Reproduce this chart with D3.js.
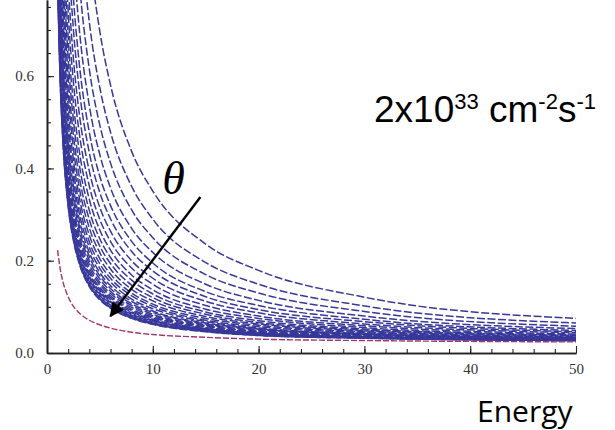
<!DOCTYPE html>
<html>
<head>
<meta charset="utf-8">
<script src="https://cdn.jsdelivr.net/npm/d3@7"></script>
<style>
  body { margin: 0; background: #fff; }
</style>
</head>
<body>
<div id="chart"></div>
<script>
var energies = [1, 1.25, 1.5, 2, 2.5, 3, 4, 5, 6, 8, 10, 15, 20, 30, 50];

// blue family, outermost first (theta grows toward the inner curve)
var blueCurves = [
  [3.456, 2.766, 2.306, 1.731, 1.386, 1.156, 0.869, 0.696, 0.581, 0.437, 0.351, 0.236, 0.179, 0.121, 0.075],
  [2.898, 2.308, 1.918, 1.434, 1.146, 0.955, 0.717, 0.574, 0.479, 0.361, 0.290, 0.196, 0.149, 0.102, 0.065],
  [2.526, 2.003, 1.659, 1.236, 0.986, 0.820, 0.615, 0.493, 0.412, 0.310, 0.250, 0.170, 0.130, 0.090, 0.058],
  [2.234, 1.763, 1.456, 1.081, 0.860, 0.715, 0.536, 0.429, 0.358, 0.270, 0.218, 0.149, 0.114, 0.080, 0.053],
  [2.022, 1.588, 1.308, 0.967, 0.769, 0.638, 0.478, 0.382, 0.320, 0.242, 0.195, 0.133, 0.103, 0.073, 0.049],
  [1.862, 1.457, 1.197, 0.883, 0.700, 0.581, 0.434, 0.347, 0.291, 0.220, 0.178, 0.122, 0.094, 0.068, 0.046],
  [1.716, 1.337, 1.096, 0.805, 0.637, 0.528, 0.394, 0.315, 0.264, 0.200, 0.162, 0.112, 0.087, 0.063, 0.044],
  [1.597, 1.239, 1.012, 0.741, 0.586, 0.485, 0.362, 0.289, 0.242, 0.184, 0.149, 0.103, 0.080, 0.059, 0.041],
  [1.491, 1.152, 0.938, 0.685, 0.540, 0.446, 0.333, 0.266, 0.223, 0.169, 0.137, 0.095, 0.075, 0.055, 0.039],
  [1.406, 1.082, 0.879, 0.639, 0.504, 0.416, 0.309, 0.247, 0.207, 0.158, 0.128, 0.089, 0.070, 0.052, 0.038],
  [1.331, 1.021, 0.828, 0.600, 0.472, 0.389, 0.289, 0.231, 0.194, 0.147, 0.120, 0.084, 0.066, 0.050, 0.037],
  [1.265, 0.967, 0.781, 0.564, 0.443, 0.365, 0.271, 0.217, 0.182, 0.138, 0.113, 0.079, 0.063, 0.048, 0.035],
  [1.206, 0.919, 0.741, 0.533, 0.418, 0.344, 0.255, 0.204, 0.171, 0.130, 0.106, 0.075, 0.060, 0.046, 0.034],
  [1.156, 0.877, 0.706, 0.506, 0.396, 0.326, 0.241, 0.193, 0.162, 0.124, 0.101, 0.071, 0.057, 0.044, 0.033],
  [1.111, 0.840, 0.674, 0.482, 0.377, 0.309, 0.229, 0.183, 0.154, 0.117, 0.096, 0.068, 0.054, 0.042, 0.033],
  [1.071, 0.807, 0.646, 0.461, 0.360, 0.295, 0.218, 0.174, 0.146, 0.112, 0.091, 0.065, 0.052, 0.041, 0.032],
  [1.036, 0.779, 0.622, 0.443, 0.345, 0.282, 0.209, 0.167, 0.140, 0.107, 0.088, 0.063, 0.051, 0.040, 0.031],
  [1.005, 0.753, 0.600, 0.426, 0.331, 0.271, 0.200, 0.160, 0.134, 0.103, 0.084, 0.061, 0.049, 0.039, 0.031],
  [0.975, 0.729, 0.580, 0.410, 0.318, 0.260, 0.192, 0.153, 0.129, 0.099, 0.081, 0.059, 0.047, 0.038, 0.030],
  [0.949, 0.707, 0.561, 0.396, 0.307, 0.251, 0.185, 0.148, 0.124, 0.095, 0.078, 0.057, 0.046, 0.037, 0.030],
  [0.925, 0.688, 0.545, 0.383, 0.297, 0.242, 0.178, 0.142, 0.120, 0.092, 0.076, 0.055, 0.045, 0.036, 0.029],
  [0.904, 0.670, 0.530, 0.372, 0.288, 0.234, 0.172, 0.138, 0.116, 0.089, 0.073, 0.053, 0.043, 0.035, 0.029],
  [0.885, 0.655, 0.517, 0.362, 0.280, 0.228, 0.167, 0.134, 0.112, 0.087, 0.071, 0.052, 0.043, 0.035, 0.029],
  [0.869, 0.642, 0.506, 0.354, 0.273, 0.222, 0.163, 0.130, 0.110, 0.084, 0.070, 0.051, 0.042, 0.034, 0.028],
  [0.853, 0.629, 0.495, 0.345, 0.266, 0.216, 0.159, 0.127, 0.107, 0.082, 0.068, 0.050, 0.041, 0.034, 0.028],
  [0.840, 0.618, 0.486, 0.338, 0.260, 0.211, 0.155, 0.124, 0.104, 0.080, 0.066, 0.049, 0.040, 0.033, 0.028],
  [0.827, 0.607, 0.476, 0.331, 0.254, 0.207, 0.151, 0.121, 0.102, 0.079, 0.065, 0.048, 0.039, 0.033, 0.027],
  [0.816, 0.598, 0.469, 0.325, 0.250, 0.203, 0.148, 0.118, 0.100, 0.077, 0.064, 0.047, 0.039, 0.033, 0.027],
  [0.808, 0.592, 0.464, 0.321, 0.246, 0.200, 0.146, 0.117, 0.098, 0.076, 0.063, 0.047, 0.038, 0.032, 0.027],
  [0.800, 0.585, 0.458, 0.317, 0.243, 0.197, 0.144, 0.115, 0.097, 0.075, 0.062, 0.046, 0.038, 0.032, 0.027]
];

// the single lower (pink) curve
var pinkCurve = [0.223, 0.182, 0.155, 0.122, 0.101, 0.088, 0.071, 0.061, 0.054, 0.045, 0.040, 0.034, 0.030, 0.027, 0.024];

var xTicks = [0, 10, 20, 30, 40, 50];
var yTicks = [0, 0.2, 0.4, 0.6];

// theta arrow, in data units
var arrowFrom = [14.5, 0.338];
var arrowTo = [6.0, 0.080];
var thetaAt = [10.9, 0.345];

var width = 615, height = 430;

var svg = d3.select("#chart").append("svg")
  .attr("width", width)
  .attr("height", height);

var x = d3.scaleLinear().domain([0, 50]).range([47, 576]);
var y = d3.scaleLinear().domain([0, 0.765]).range([353, 0]);

svg.append("clipPath").attr("id", "plotclip")
  .append("rect")
  .attr("x", x(0))
  .attr("y", 0)
  .attr("width", x(50) - x(0) + 2)
  .attr("height", y(0));

var line = d3.line()
  .x(function(d) { return x(d[0]); })
  .y(function(d) { return y(d[1]); })
  .curve(d3.curveMonotoneX);

var plot = svg.append("g").attr("clip-path", "url(#plotclip)");

plot.selectAll(".blue")
  .data(blueCurves)
  .enter().append("path")
  .attr("class", "blue")
  .attr("d", function(vals) { return line(energies.map(function(e, i) { return [e, vals[i]]; })); })
  .attr("fill", "none")
  .attr("stroke", "#38389a")
  .attr("stroke-width", 1.5)
  .style("stroke-dasharray", "8, 2.5");

plot.append("path")
  .attr("d", line(energies.map(function(e, i) { return [e, pinkCurve[i]]; })))
  .attr("fill", "none")
  .attr("stroke", "#a8356e")
  .attr("stroke-width", 1.4)
  .style("stroke-dasharray", "6, 2");

// axes, Mathematica style: ticks point inward
var xAxis = svg.append("g")
  .attr("transform", "translate(0," + y(0) + ")")
  .call(d3.axisBottom(x).tickValues(xTicks).tickSizeInner(-7).tickSizeOuter(0).tickPadding(10).tickFormat(d3.format("d")));

var xMinor = svg.append("g")
  .attr("transform", "translate(0," + y(0) + ")")
  .call(d3.axisBottom(x).tickValues(d3.range(2, 50, 2)).tickSizeInner(-4).tickSizeOuter(0).tickFormat(""));

var yAxis = svg.append("g")
  .attr("transform", "translate(" + x(0) + ",0)")
  .call(d3.axisLeft(y).tickValues(yTicks).tickSizeInner(-7).tickSizeOuter(0).tickPadding(13).tickFormat(d3.format(".1f")));

var yMinor = svg.append("g")
  .attr("transform", "translate(" + x(0) + ",0)")
  .call(d3.axisLeft(y).tickValues(d3.range(0.05, 0.76, 0.05)).tickSizeInner(-4).tickSizeOuter(0).tickFormat(""));

svg.selectAll(".domain")
  .attr("stroke", "#222")
  .attr("stroke-width", 1.6);
svg.selectAll(".tick line")
  .attr("stroke", "#222")
  .attr("stroke-width", 1.1);
svg.selectAll(".tick text")
  .style("font-family", "'Liberation Serif', 'Times New Roman', serif")
  .style("font-size", "15px")
  .style("fill", "#333");

// arrow across the family
svg.append("defs").append("marker")
  .attr("id", "head")
  .attr("viewBox", "0 0 10 10")
  .attr("refX", 9)
  .attr("refY", 5)
  .attr("markerWidth", 7)
  .attr("markerHeight", 6)
  .attr("markerUnits", "strokeWidth")
  .attr("orient", "auto")
  .append("path")
  .attr("d", "M0,0 L10,5 L0,10 Z")
  .attr("fill", "#000");

svg.append("line")
  .attr("x1", x(arrowFrom[0]))
  .attr("y1", y(arrowFrom[1]))
  .attr("x2", x(arrowTo[0]))
  .attr("y2", y(arrowTo[1]))
  .attr("stroke", "#000")
  .attr("stroke-width", 2.4)
  .attr("marker-end", "url(#head)");

svg.append("text")
  .attr("x", x(thetaAt[0]))
  .attr("y", y(thetaAt[1]))
  .style("font-family", "'Liberation Serif', 'Times New Roman', serif")
  .style("font-style", "italic")
  .style("font-size", "46px")
  .style("fill", "#000")
  .text("\u03b8");

// luminosity label
var lum = svg.append("text")
  .attr("x", 374)
  .attr("y", 122)
  .style("font-family", "'Liberation Sans', Arial, sans-serif")
  .style("font-size", "37px")
  .style("fill", "#000");
lum.append("tspan").text("2x10");
lum.append("tspan").attr("dy", -13).style("font-size", "22px").text("33");
lum.append("tspan").attr("dy", 13).text(" cm");
lum.append("tspan").attr("dy", -13).style("font-size", "22px").text("-2");
lum.append("tspan").attr("dy", 13).text("s");
lum.append("tspan").attr("dy", -13).style("font-size", "22px").text("-1");

svg.append("text")
  .attr("x", 477)
  .attr("y", 422)
  .style("font-family", "'Open Sans', 'Noto Sans', sans-serif")
  .style("font-size", "30px")
  .style("fill", "#000")
  .text("Energy");
</script>
</body>
</html>
